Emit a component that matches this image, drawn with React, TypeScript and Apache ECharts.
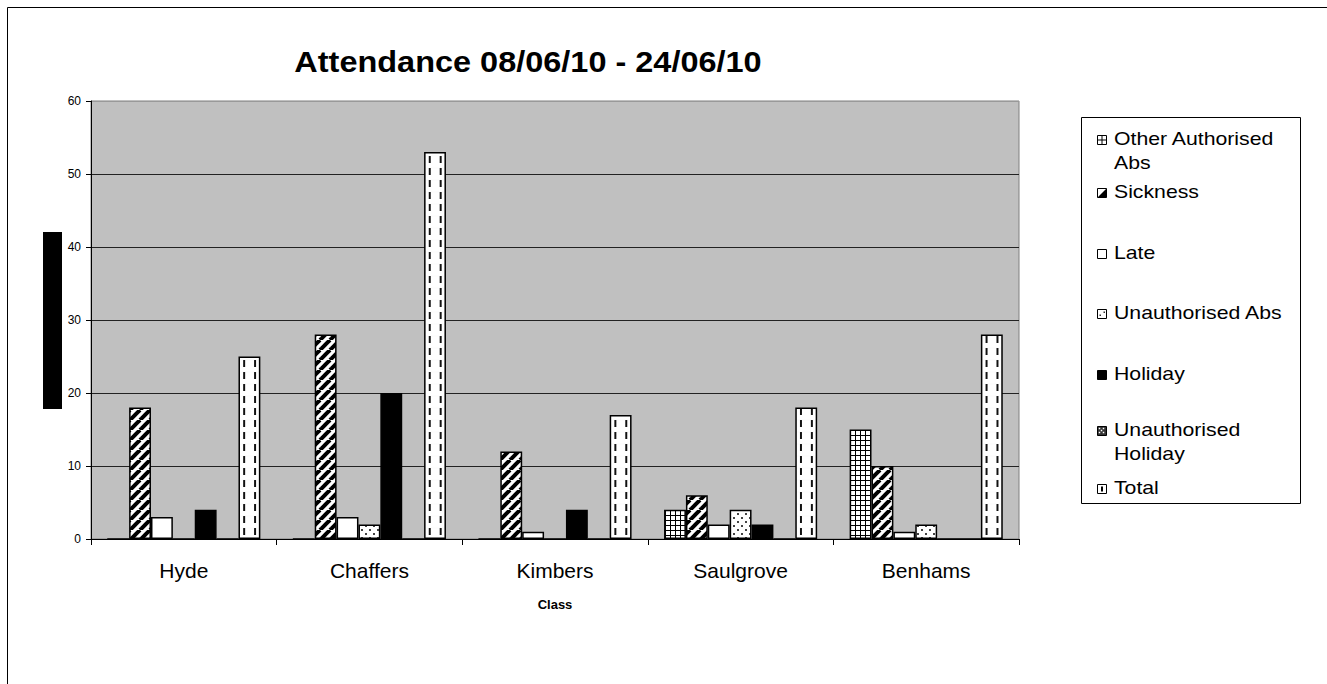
import { useEffect, useRef } from 'react';
import * as echarts from 'echarts';

const categories = ['Hyde', 'Chaffers', 'Kimbers', 'Saulgrove', 'Benhams'];
const otherAuthorisedAbs = [0, 0, 0, 4, 15];
const sickness = [18, 28, 12, 6, 10];
const late = [3, 3, 1, 2, 1];
const unauthorisedAbs = [0, 2, 0, 4, 2];
const holiday = [4, 20, 4, 2, 0];
const unauthorisedHoliday = [0, 0, 0, 0, 0];
const total = [25, 53, 17, 18, 28];
const yMin = 0;
const yMax = 60;
const yInterval = 10;
const seriesNames = [
  'Other Authorised Abs',
  'Sickness',
  'Late',
  'Unauthorised Abs',
  'Holiday',
  'Unauthorised Holiday',
  'Total',
];
const legendLines = [
  ['Other Authorised', 'Abs'],
  ['Sickness'],
  ['Late'],
  ['Unauthorised Abs'],
  ['Holiday'],
  ['Unauthorised', 'Holiday'],
  ['Total'],
];
const titleText = 'Attendance 08/06/10 - 24/06/10';
const xAxisName = 'Class';

const FONT = '"Liberation Sans", Arial, Helvetica, sans-serif';
const W = 1327;
const GRID_LEFT = 91;
const GRID_RIGHT = 308;

function makeTile(w: number, h: number, draw: (ctx: CanvasRenderingContext2D) => void, iw?: number) {
  const c = document.createElement('canvas');
  c.width = w;
  c.height = h;
  const ctx = c.getContext('2d')!;
  ctx.fillStyle = '#fff';
  ctx.fillRect(0, 0, w, h);
  draw(ctx);
  return { image: c, repeat: 'repeat', imageWidth: iw ?? w, imageHeight: h } as any;
}

export default function App() {
  const ref = useRef<HTMLDivElement>(null);

  useEffect(() => {
    if (!ref.current) return;
    const chart = echarts.init(ref.current, null, { renderer: 'svg' });

    const catWidth = (W - GRID_LEFT - GRID_RIGHT) / categories.length;

    const gridPat = makeTile(5, 5, (ctx) => {
      ctx.fillStyle = '#000';
      ctx.fillRect(0, 0, 5, 1);
      ctx.fillRect(0, 0, 1, 5);
    });
    const diagPat = makeTile(10, 10, (ctx) => {
      ctx.strokeStyle = '#000';
      ctx.lineWidth = 4;
      for (let k = -1; k <= 1; k++) {
        ctx.beginPath();
        ctx.moveTo(k * 10, 10);
        ctx.lineTo(k * 10 + 10, 0);
        ctx.stroke();
      }
    });
    const dotPat = makeTile(8, 8, (ctx) => {
      ctx.fillStyle = '#444';
      ctx.fillRect(1, 1, 2, 2);
      ctx.fillRect(5, 5, 2, 2);
    });
    const dashPat = makeTile(
      11,
      12,
      (ctx) => {
        ctx.fillStyle = '#111';
        ctx.fillRect(3, 0, 2, 7);
      },
      catWidth / 17
    );

    const fills: any[] = [gridPat, diagPat, '#ffffff', dotPat, '#000000', '#333333', dashPat];
    const dataSets = [
      otherAuthorisedAbs,
      sickness,
      late,
      unauthorisedAbs,
      holiday,
      unauthorisedHoliday,
      total,
    ];

    const series = seriesNames.map((name, i) => ({
      name,
      type: 'bar',
      data: dataSets[i],
      barGap: '0%',
      barCategoryGap: '17.5%',
      itemStyle: { color: fills[i], borderColor: '#000', borderWidth: 1.5 },
      emphasis: { disabled: true },
    }));

    // Custom legend
    const iconYs = [139, 192, 253, 313, 374, 430, 488];
    const legendChildren: any[] = [
      {
        type: 'rect',
        shape: { x: 1081.5, y: 117.5, width: 219, height: 386 },
        style: { fill: '#fff', stroke: '#000', lineWidth: 1 },
      },
    ];
    const ix = 1097;
    const s = 9;
    iconYs.forEach((cy, i) => {
      const iy = Math.round(cy - s / 2) + 0.5;
      const x0 = ix + 0.5;
      const base = {
        type: 'rect',
        shape: { x: x0, y: iy, width: s, height: s },
        style: { fill: i === 4 ? '#000' : i === 5 ? '#333' : '#fff', stroke: '#000', lineWidth: 1 },
      };
      legendChildren.push(base);
      if (i === 0) {
        legendChildren.push({ type: 'line', shape: { x1: x0, y1: iy + s / 2, x2: x0 + s, y2: iy + s / 2 }, style: { stroke: '#000', lineWidth: 1 } });
        legendChildren.push({ type: 'line', shape: { x1: x0 + s / 2, y1: iy, x2: x0 + s / 2, y2: iy + s }, style: { stroke: '#000', lineWidth: 1 } });
      } else if (i === 1) {
        legendChildren.push({
          type: 'polygon',
          shape: { points: [[x0, iy + s], [x0 + s, iy], [x0 + s, iy + s]] },
          style: { fill: '#000' },
        });
      } else if (i === 3) {
        legendChildren.push({ type: 'rect', shape: { x: x0 + 2, y: iy + 5, width: 1.5, height: 1.5 }, style: { fill: '#333' } });
        legendChildren.push({ type: 'rect', shape: { x: x0 + 6, y: iy + 2, width: 1.5, height: 1.5 }, style: { fill: '#333' } });
      } else if (i === 5) {
        [[2, 2], [6, 2], [2, 6], [6, 6], [4, 4]].forEach(([dx, dy]) =>
          legendChildren.push({ type: 'rect', shape: { x: x0 + dx - 0.75, y: iy + dy - 0.75, width: 1.5, height: 1.5 }, style: { fill: '#fff' } })
        );
      } else if (i === 6) {
        legendChildren.push({ type: 'rect', shape: { x: x0 + 3.5, y: iy + 2, width: 2, height: 5 }, style: { fill: '#000' } });
      }
      legendLines[i].forEach((t, li) => {
        legendChildren.push({
          type: 'text',
          x: 1114,
          y: cy + li * 24,
          scaleX: 1.18,
          style: {
            text: t,
            x: 0,
            y: 0,
            textVerticalAlign: 'middle',
            textAlign: 'left',
            font: `18px ${FONT}`,
            fill: '#000',
          },
        });
      });
    });

    chart.setOption({
      animation: false,
      backgroundColor: '#ffffff',
      grid: {
        left: GRID_LEFT,
        right: GRID_RIGHT,
        top: 101,
        bottom: 145,
        containLabel: false,
        show: true,
        backgroundColor: '#c0c0c0',
        borderColor: '#808080',
        borderWidth: 1,
      },
      xAxis: {
        type: 'category',
        data: categories,
        boundaryGap: true,
        name: xAxisName,
        nameLocation: 'middle',
        nameGap: 59,
        nameTextStyle: { fontFamily: FONT, fontSize: 13, fontWeight: 'bold', color: '#000' },
        axisLine: { show: true, lineStyle: { color: '#000', width: 1 } },
        axisTick: { show: true, length: 6, alignWithLabel: false, interval: 0, lineStyle: { color: '#000' } },
        axisLabel: { fontFamily: FONT, fontSize: 21, color: '#000', margin: 21, interval: 0 },
        splitLine: { show: false },
      },
      yAxis: {
        type: 'value',
        min: yMin,
        max: yMax,
        interval: yInterval,
        axisLine: { show: true, lineStyle: { color: '#000', width: 1 } },
        axisTick: { show: true, length: 5, lineStyle: { color: '#000' } },
        axisLabel: { fontFamily: FONT, fontSize: 12, color: '#000', margin: 10 },
        splitLine: {
          show: true,
          lineStyle: { color: ['#000', '#222', '#222', '#222', '#222', '#222', '#999'], width: 1 },
        },
      },
      series,
      graphic: [
        { type: 'line', shape: { x1: 7.5, y1: 7.5, x2: 1327, y2: 7.5 }, style: { stroke: '#000', lineWidth: 1 } },
        { type: 'line', shape: { x1: 7.5, y1: 7.5, x2: 7.5, y2: 684 }, style: { stroke: '#000', lineWidth: 1 } },
        { type: 'rect', shape: { x: 43, y: 232, width: 19, height: 177 }, style: { fill: '#000' } },
        {
          type: 'text',
          x: 528,
          y: 62,
          scaleX: 1.12,
          style: {
            text: titleText,
            x: 0,
            y: 0,
            textAlign: 'center',
            textVerticalAlign: 'middle',
            font: `bold 29px ${FONT}`,
            fill: '#000',
          },
        },
        { type: 'group', children: legendChildren },
      ],
    });

    return () => chart.dispose();
  }, []);

  return (
    <div
      ref={ref}
      style={{ position: 'absolute', left: 0, top: 0, width: W, height: 684 }}
    />
  );
}
